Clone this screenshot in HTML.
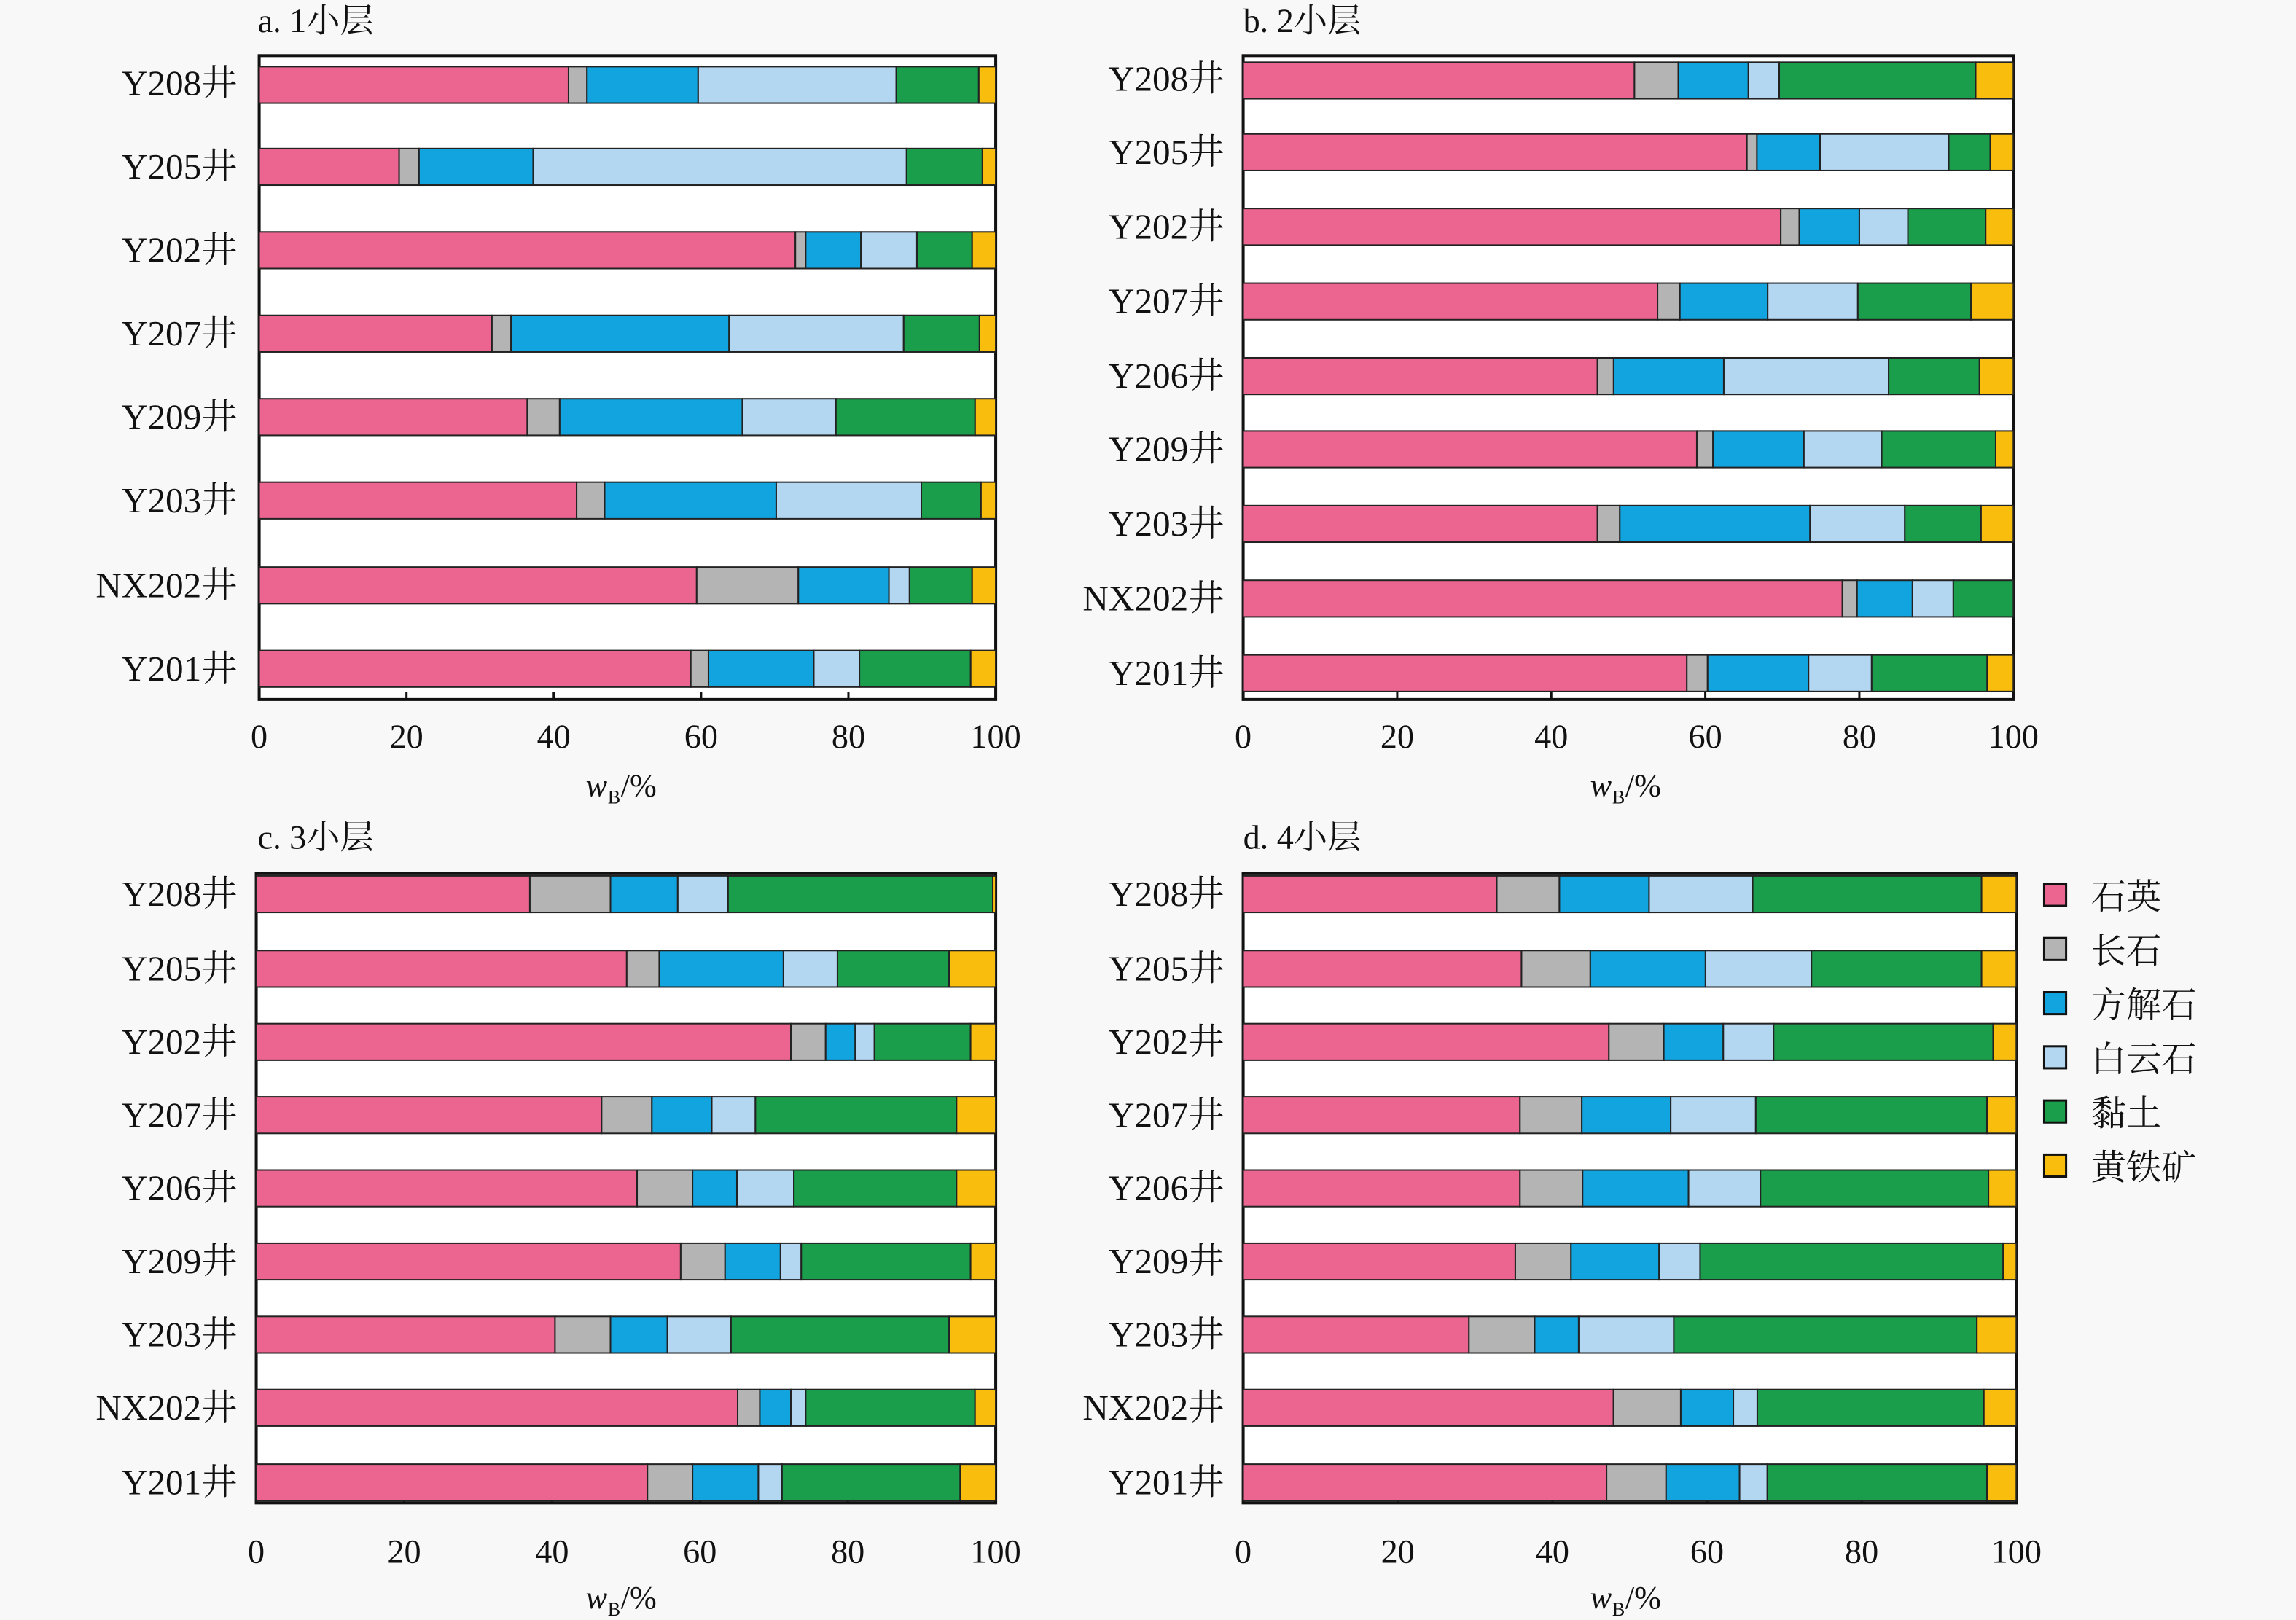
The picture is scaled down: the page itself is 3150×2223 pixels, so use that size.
<!DOCTYPE html>
<html><head><meta charset="utf-8"><style>
html,body{margin:0;padding:0;background:#f8f8f8;}
svg{display:block;}
text{font-family:"Liberation Serif","Noto Serif CJK SC","Noto Sans CJK SC",serif;fill:#111;}
</style></head><body>
<svg id="s" width="3150" height="2223" viewBox="0 0 1568 1107" preserveAspectRatio="none" xmlns="http://www.w3.org/2000/svg">
<g id="bars"></g>
<text x="176" y="22" font-size="23">a. 1小层</text>
<text x="849" y="22" font-size="23">b. 2小层</text>
<text x="176" y="580" font-size="23">c. 3小层</text>
<text x="849" y="580" font-size="23">d. 4小层</text>
<g font-size="24.5" text-anchor="end">
<text x="162" y="65">Y208井</text><text x="162" y="122">Y205井</text><text x="162" y="179">Y202井</text><text x="162" y="236">Y207井</text><text x="162" y="293">Y209井</text><text x="162" y="350">Y203井</text><text x="162" y="408">NX202井</text><text x="162" y="465">Y201井</text>
<text x="836" y="62">Y208井</text><text x="836" y="112">Y205井</text><text x="836" y="163">Y202井</text><text x="836" y="214">Y207井</text><text x="836" y="265">Y206井</text><text x="836" y="315">Y209井</text><text x="836" y="366">Y203井</text><text x="836" y="417">NX202井</text><text x="836" y="468">Y201井</text>
<text x="162" y="619">Y208井</text><text x="162" y="670">Y205井</text><text x="162" y="720">Y202井</text><text x="162" y="770">Y207井</text><text x="162" y="820">Y206井</text><text x="162" y="870">Y209井</text><text x="162" y="920">Y203井</text><text x="162" y="970">NX202井</text><text x="162" y="1021">Y201井</text>
<text x="836" y="619">Y208井</text><text x="836" y="670">Y205井</text><text x="836" y="720">Y202井</text><text x="836" y="770">Y207井</text><text x="836" y="820">Y206井</text><text x="836" y="870">Y209井</text><text x="836" y="920">Y203井</text><text x="836" y="970">NX202井</text><text x="836" y="1021">Y201井</text>
</g>
<g font-size="23" text-anchor="middle">
<text x="177" y="511">0</text><text x="277.6" y="511">20</text><text x="378.2" y="511">40</text><text x="478.8" y="511">60</text><text x="579.4" y="511">80</text><text x="680" y="511">100</text>
<text x="849" y="511">0</text><text x="954.2" y="511">20</text><text x="1059.4" y="511">40</text><text x="1164.6" y="511">60</text><text x="1269.8" y="511">80</text><text x="1375" y="511">100</text>
<text x="175" y="1068">0</text><text x="276" y="1068">20</text><text x="377" y="1068">40</text><text x="478" y="1068">60</text><text x="579" y="1068">80</text><text x="680" y="1068">100</text>
<text x="849" y="1068">0</text><text x="954.6" y="1068">20</text><text x="1060.2" y="1068">40</text><text x="1165.8" y="1068">60</text><text x="1271.4" y="1068">80</text><text x="1377" y="1068">100</text>
</g>
<g font-size="22">
<text x="400" y="544" font-style="italic">w</text><text x="415" y="549" font-size="13">B</text><text x="424" y="544">/%</text>
<text x="1086" y="544" font-style="italic">w</text><text x="1101" y="549" font-size="13">B</text><text x="1110" y="544">/%</text>
<text x="400" y="1099" font-style="italic">w</text><text x="415" y="1104" font-size="13">B</text><text x="424" y="1099">/%</text>
<text x="1086" y="1099" font-style="italic">w</text><text x="1101" y="1104" font-size="13">B</text><text x="1110" y="1099">/%</text>
</g>
<g stroke="#111" stroke-width="1.5">
<rect x="1396" y="604" width="15" height="15" fill="#ec6590"/>
<rect x="1396" y="641" width="15" height="15" fill="#b4b4b4"/>
<rect x="1396" y="678" width="15" height="15" fill="#12a4df"/>
<rect x="1396" y="715" width="15" height="15" fill="#b3d6f1"/>
<rect x="1396" y="752" width="15" height="15" fill="#1a9e4c"/>
<rect x="1396" y="789" width="15" height="15" fill="#f8bd0d"/>
</g>
<g font-size="24">
<text x="1428" y="621">石英</text><text x="1428" y="658">长石</text><text x="1428" y="695">方解石</text><text x="1428" y="732">白云石</text><text x="1428" y="769">黏土</text><text x="1428" y="806">黄铁矿</text>
</g>
</svg>
<script>
var C=["#ec6590","#b4b4b4","#12a4df","#b3d6f1","#1a9e4c","#f8bd0d"];
var P=[
{x0:177,x1:680,t:38,b:478,h:25,rows:[58,114,171,228,285,342,400,457],d:[
[42,44.5,59.6,86.5,97.7],[19,21.7,37.2,87.9,98.2],[72.8,74.2,81.7,89.3,96.8],[31.6,34.2,63.8,87.5,97.8],[36.4,40.8,65.6,78.3,97.2],[43.1,46.9,70.2,89.9,98],[59.4,73.2,85.5,88.3,96.8],[58.6,61,75.3,81.5,96.6]]},
{x0:849,x1:1375,t:38,b:478,h:25,rows:[55,104,155,206,257,307,358,409,460],d:[
[50.8,56.5,65.6,69.6,95.1],[65.4,66.7,74.9,91.6,97],[69.8,72.2,80,86.3,96.4],[53.8,56.7,68.1,79.8,94.5],[46,48.1,62.4,83.8,95.6],[58.9,61,72.8,82.9,97.7],[46,48.9,73.6,85.9,95.8],[77.8,79.7,86.9,92.2,100],[57.6,60.3,73.4,81.6,96.6]]},
{x0:175,x1:680,t:597,b:1027,h:25,rows:[611,662,712,762,812,862,912,962,1013],d:[
[37,47.9,57,63.8,99.6],[50.1,54.5,71.3,78.6,93.7],[72.3,77,81,83.6,96.6],[46.7,53.5,61.6,67.5,94.7],[51.5,59,65,72.7,94.7],[57.4,63.4,70.9,73.7,96.6],[40.4,47.9,55.6,64.2,93.7],[65.1,68.1,72.3,74.3,97.2],[52.9,59,67.9,71.1,95.2]]},
{x0:849,x1:1377,t:597,b:1027,h:25,rows:[611,662,712,762,812,862,912,962,1013],d:[
[32.8,40.9,52.5,65.9,95.5],[36,44.9,59.8,73.5,95.5],[47.3,54.4,62.1,68.6,97],[35.8,43.8,55.3,66.3,96.2],[35.8,43.9,57.6,66.9,96.4],[35.2,42.4,53.8,59.1,98.3],[29.2,37.7,43.4,55.7,94.9],[47.9,56.6,63.4,66.5,95.8],[47,54.7,64.2,67.8,96.2]]}
];
var s="";
P.forEach(function(p){
 var k=(p.x1-p.x0)/100;
 s+='<rect x="'+p.x0+'" y="'+p.t+'" width="'+(p.x1-p.x0)+'" height="'+(p.b-p.t)+'" fill="#fff" stroke="#111" stroke-width="2"/>';
 for(var i=1;i<5;i++){var tx=p.x0+20*i*k;s+='<line x1="'+tx+'" x2="'+tx+'" y1="'+p.b+'" y2="'+(p.b-5)+'" stroke="#111" stroke-width="1.5"/>';}
 p.d.forEach(function(r,j){
  var y=p.rows[j]-p.h/2,v=[0].concat(r).concat([100]);
  for(var i=0;i<6;i++){var a=v[i],b=v[i+1];if(b<=a)continue;
   s+='<rect x="'+(p.x0+a*k)+'" y="'+y+'" width="'+((b-a)*k)+'" height="'+p.h+'" fill="'+C[i]+'" stroke="#222" stroke-width="1"/>';}
 });
});
document.getElementById("bars").innerHTML=s;
</script>
</body></html>
